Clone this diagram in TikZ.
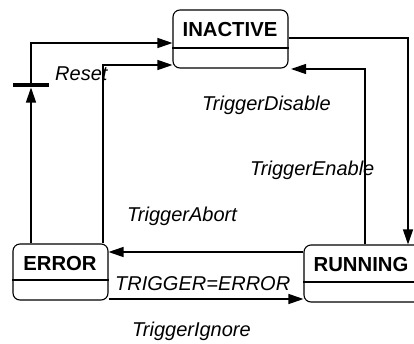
\documentclass[tikz,border=0pt]{standalone}
\usepackage{fontspec}
\setmainfont{Liberation Sans}
\usetikzlibrary{arrows.meta}
\begin{document}
\begin{tikzpicture}[x=1pt,y=-1pt,
  statebox/.style={draw, line width=1.1pt, rounded corners=7pt, inner sep=0pt},
  statename/.style={font=\fontsize{20.3}{22}\selectfont\bfseries, inner sep=0pt},
  evlabel/.style={font=\fontsize{20}{22}\selectfont\itshape, inner sep=0pt, anchor=base west},
  trans/.style={line width=1.2pt, -{Triangle[length=15pt,width=10pt]}},
  plain/.style={line width=1.2pt}]
\clip (0,0) rectangle (414,343);
\fill[white] (0,0) rectangle (414,343);

% states: outline, name, compartment divider
\node[statebox, minimum width=115pt, minimum height=58pt] (inactive) at (230.5,39) {};
\node[statename] (inactive-name) at (230,30) {INACTIVE};
\draw[line width=1.1pt] (inactive.west |- 0,48) -- (inactive.east |- 0,48);

\node[statebox, minimum width=95pt, minimum height=56pt] (error) at (60.5,272) {};
\node[statename] (error-name) at (60,264) {ERROR};
\draw[line width=1.1pt] (error.west |- 0,280) -- (error.east |- 0,280);

\node[statebox, minimum width=120pt, minimum height=57pt] (running) at (364,273.5) {};
\node[statename] (running-name) at (361,265) {RUNNING};
\draw[line width=1.1pt] (running.west |- 0,282) -- (running.east |- 0,282);

% junction bar on the reset path
\coordinate (resetbar) at (31,85);
\draw[line width=4pt] (13,85) -- (49,85);

% transitions
\draw[trans] (error.north -| resetbar) -- ([yshift=-2.5pt]resetbar);
\draw[trans] (resetbar) |- (inactive.west |- 0,43);
\draw[trans] (error.north -| 103,0) |- (inactive.west |- 0,65);
\draw[trans] (inactive.east |- 0,38) -| (running.north -| 408,0);
\coordinate (enable-end) at (291,69);
\draw[trans] (running.north -| 365,0) |- (enable-end);
\draw[trans] (running.west |- 0,252) -- (error.east |- 0,252);
\draw[trans] (error.east |- 0,299) -- (running.west |- 0,299);

% event labels
\node[evlabel] (lbl-reset) at (55,80) {Reset};
\node[evlabel] (lbl-disable) at (202,110) {TriggerDisable};
\node[evlabel] (lbl-enable) at (250,175) {TriggerEnable};
\node[evlabel] (lbl-abort) at (127,221) {TriggerAbort};
\node[evlabel] (lbl-guard) at (115,290) {TRIGGER=ERROR};
\node[evlabel] (lbl-ignore) at (132,336) {TriggerIgnore};
\end{tikzpicture}
\end{document}
